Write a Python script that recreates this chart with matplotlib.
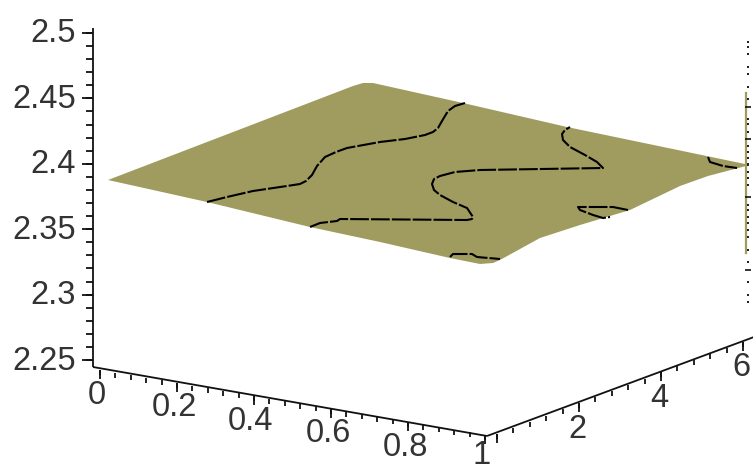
import numpy as np
import matplotlib
matplotlib.use("Agg")
import matplotlib.pyplot as plt

plt.rcParams["font.family"] = ["Liberation Sans", "DejaVu Sans"]

OLIVE = "#a09c60"

# axis ticks
Z_TICKS = [2.25, 2.3, 2.35, 2.4, 2.45, 2.5]
Z_LABELS = ["2.25", "2.3", "2.35", "2.4", "2.45", "2.5"]
X_TICKS = [0, 0.2, 0.4, 0.6, 0.8, 1]
X_LABELS = ["0", "0.2", "0.4", "0.6", "0.8", "1"]
T_TICKS = [2, 4, 6]
T_LABELS = ["2", "4", "6"]

OUTLINE_PX = [108, 353, 363, 373, 463, 567, 745, 746, 708, 680, 630, 580, 540,
              500, 493, 480, 450, 380, 310, 207]
OUTLINE_PY = [180, 86, 83, 83, 103, 127, 164, 166, 176, 186, 210, 225, 238,
              260, 263, 264, 258, 242, 227, 202]

CONTOUR_A_PX = [207, 227, 253, 287, 300, 306, 312, 317, 325, 336, 347, 380, 405,
                425, 433, 438, 442, 448, 455, 465]
CONTOUR_A_PY = [202, 197, 191, 186, 184, 181, 175, 166, 157, 152, 148, 142, 139,
                135, 132, 128, 121, 111, 106, 103]

CONTOUR_B_PX = [310, 320, 337, 340, 467, 472, 473, 467, 453, 440, 434, 432, 434,
                440, 455, 480, 603, 597, 585, 570, 563, 562, 565, 570]
CONTOUR_B_PY = [227, 223, 221, 219, 220, 219, 217, 208, 202, 195, 190, 184, 179,
                176, 172, 170, 168, 162, 155, 147, 140, 134, 130, 127]

CONTOUR_C_PX = [628, 613, 578, 580, 593, 603, 610]
CONTOUR_C_PY = [210, 207, 207, 210, 215, 218, 217]

CONTOUR_D_PX = [450, 453, 472, 477, 500]
CONTOUR_D_PY = [257, 254, 254, 257, 259]

CONTOUR_E_PX = [708, 710, 723, 737]
CONTOUR_E_PY = [157, 162, 166, 168]

# far edge of the box, seen almost edge on
EDGE_DOTS_Y = [42, 47, 54, 67, 74, 87, 99, 119, 124, 132, 146, 152, 158, 164,
               165, 172, 178, 185, 205, 210, 217, 223, 230, 237, 250, 262, 282, 295, 302]
EDGE_WIDE_Y = [107, 139, 197, 270]


def z_screen(z):
    return 360 - (np.asarray(z, dtype=float) - 2.25) * 1308


def x_screen(x):
    x = np.asarray(x, dtype=float)
    return 100 + 385 * x, 370 + 65 * x


def t_screen(t):
    t = np.asarray(t, dtype=float)
    return 497 + 41 * t, 434 - 15.4 * t


fig = plt.figure(figsize=(7.53, 4.70), dpi=100)
ax = fig.add_axes([0, 0, 1, 1])
ax.set_xlim(0, 753)
ax.set_ylim(470, 0)
ax.axis("off")

# surface
ax.fill(OUTLINE_PX, OUTLINE_PY, color=OLIVE, lw=0, zorder=1)
ax.plot([746, 746], [93, 253], color=OLIVE, lw=1.6, zorder=1)

# contours
for cx, cy in [(CONTOUR_A_PX, CONTOUR_A_PY), (CONTOUR_B_PX, CONTOUR_B_PY),
               (CONTOUR_C_PX, CONTOUR_C_PY), (CONTOUR_D_PX, CONTOUR_D_PY),
               (CONTOUR_E_PX, CONTOUR_E_PY)]:
    ax.plot(cx, cy, color="black", lw=1.5, ls=(0, (9, 1)), zorder=2)

# far edge dots
ax.plot([748] * len(EDGE_DOTS_Y), EDGE_DOTS_Y, ls="", marker="s", ms=1.7,
        color="#222222", mew=0, zorder=3)
ax.plot([748] * len(EDGE_WIDE_Y), EDGE_WIDE_Y, ls="", marker="_", ms=4.5,
        color="#111111", mew=1.2, zorder=3)

axis_kw = dict(color="#111111", lw=1.3, solid_capstyle="butt", zorder=4)
text_kw = dict(fontsize=23.5, color="#333333", zorder=5)

# z axis
ax.plot([93, 93], [28, 367], **axis_kw)
for z in np.arange(2.25, 2.5001, 0.01):
    ax.plot([86, 93], [z_screen(z)] * 2, **axis_kw)
for z, lab in zip(Z_TICKS, Z_LABELS):
    ax.plot([82, 93], [z_screen(z)] * 2, **axis_kw)
    ax.text(76, z_screen(z) + 1, lab, ha="right", va="center", **text_kw)

# x axis
ax.plot([93, 487], [367, 436], **axis_kw)
for x in np.arange(0, 1.001, 0.04):
    px, py = x_screen(x)
    ax.plot([px, px], [py, py + 5], **axis_kw)
for x, lab in zip(X_TICKS, X_LABELS):
    px, py = x_screen(x)
    ax.plot([px, px], [py, py + 9], **axis_kw)
    # the last label sits right at the bottom edge, keep it inside
    ax.text(px - 3, min(py + 25, 456), lab, ha="center", va="center", **text_kw)

# t axis
ax.plot([487, 754], [436, 337], **axis_kw)
for t in np.arange(0, 6.3, 0.4):
    px, py = t_screen(t)
    ax.plot([px, px], [py, py + 5], **axis_kw)
px, py = t_screen(0)
ax.plot([px, px], [py, py + 9], **axis_kw)
for t, lab in zip(T_TICKS, T_LABELS):
    px, py = t_screen(t)
    ax.plot([px, px], [py, py + 9], **axis_kw)
    ax.text(px - 2, py + 26, lab, ha="center", va="center", **text_kw)

fig.savefig("out.png", dpi=100)
